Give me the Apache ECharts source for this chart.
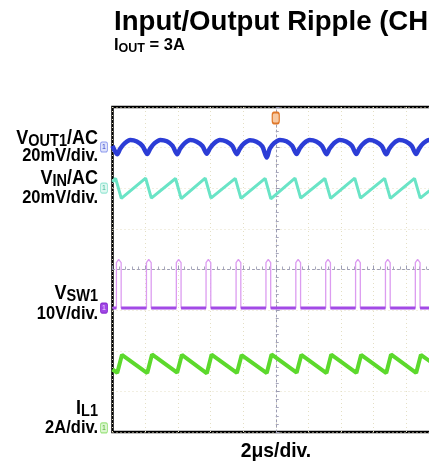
<!DOCTYPE html>
<html><head><meta charset="utf-8">
<script src="https://cdn.jsdelivr.net/npm/echarts/dist/echarts.min.js"></script>
<style>html,body{margin:0;padding:0;background:#fff}#c{width:429px;height:464px}</style>
</head><body><div id="c"></div>
<script>
// ---- text ----
const titleText = 'Input/Output Ripple (CH';
const xLabel = '2\u03bcs/div.';

// ---- time axis (us, trigger at 0), 2us/div ----
const timeMin = -10, timeMax = 10, timeStep = 2;

// ---- VSW1 switch node (V) ----
const swRise = [-9.76, -7.92, -6.09, -4.27, -2.43, -0.60, 1.23, 3.06, 4.89, 6.72, 8.55];
const swPeakT = [-9.62, -7.78, -5.95, -4.13, -2.29, -0.46, 1.37, 3.20, 5.03, 6.86, 8.69];
const swFall = [-9.47, -7.63, -5.80, -3.98, -2.14, -0.31, 1.52, 3.35, 5.18, 7.01, 8.84];
const swLow = 0, swHigh = 11.2, swTip = 12.0;

// ---- VOUT1 AC ripple (mV) ----
const voutT = [-10, -9.71, -9.53, -9.26, -8.91, -8.51, -8.16, -7.87, -7.69, -7.42, -7.07, -6.67, -6.32,
  -6.04, -5.86, -5.59, -5.24, -4.84, -4.49, -4.22, -4.04, -3.77, -3.42, -3.02, -2.67,
  -2.38, -2.20, -1.93, -1.58, -1.18, -0.83, -0.55, -0.37, -0.10, 0.25, 0.65, 1.00,
  1.28, 1.46, 1.73, 2.08, 2.48, 2.83, 3.11, 3.29, 3.56, 3.91, 4.31, 4.66,
  4.94, 5.12, 5.39, 5.74, 6.14, 6.49, 6.77, 6.95, 7.22, 7.57, 7.97, 8.32,
  8.60, 8.78, 9.05, 9.40, 9.80, 10];
const voutMV = [0.6, -3.5, -0.9, 1.8, 3.4, 2.7, 0.5, -3.4, -0.8, 1.9, 3.5, 2.8, 0.6,
  -3.6, -0.9, 1.8, 3.4, 2.6, 0.5, -3.3, -0.7, 1.9, 3.5, 2.7, 0.6,
  -3.5, -0.8, 1.8, 3.3, 2.6, 0.4, -5.2, -0.9, 1.9, 3.5, 2.8, 0.6,
  -3.4, -0.8, 1.9, 3.4, 2.7, 0.5, -3.5, -0.9, 1.8, 3.5, 2.7, 0.6,
  -3.4, -0.7, 1.9, 3.4, 2.6, 0.5, -3.6, -0.8, 1.8, 3.4, 2.7, 0.6,
  -3.4, -0.8, 1.9, 3.5, 2.7, 1.5];

// ---- VIN AC ripple (mV) ----
const vinT = [-10, -9.81, -9.46, -7.97, -7.62, -6.14, -5.79, -4.32, -3.97, -2.48, -2.13, -0.65, -0.30,
  1.18, 1.53, 3.01, 3.36, 4.84, 5.19, 6.67, 7.02, 8.50, 8.85, 10];
const vinMV = [3.0, 4.8, -5.1, 4.9, -5.0, 4.7, -5.2, 4.9, -5.0, 4.8, -5.1, 4.8, -5.3,
  4.9, -5.0, 4.7, -5.1, 4.9, -5.0, 4.8, -5.1, 4.8, -5.0, 2.5];

// ---- IL1 inductor current (A) ----
const ilT = [-10, -9.71, -9.42, -7.87, -7.58, -6.04, -5.75, -4.22, -3.93, -2.38, -2.09, -0.55, -0.26,
  1.28, 1.57, 3.11, 3.40, 4.94, 5.23, 6.77, 7.06, 8.60, 8.89, 10];
const ilA = [2.88, 2.71, 3.60, 2.70, 3.62, 2.72, 3.60, 2.69, 3.61, 2.71, 3.59, 2.70, 3.62,
  2.72, 3.60, 2.70, 3.61, 2.71, 3.60, 2.70, 3.62, 2.71, 3.60, 2.96];

// ---- channel scales (ground reference of each trace) ----
const voutRange = [-140.3, 19.7];   // 20mV/div
const vinRange = [-120.1, 39.9];    // 20mV/div
const swRange = [-30.5, 49.5];      // 10V/div
const ilRange = [-0.2, 15.8];       // 2A/div

const FONT = '"Liberation Sans", Arial, Helvetica, sans-serif';

const zip = (a, b) => a.map((t, i) => [t, b[i]]);
const swPts = [[timeMin, swLow]];
const swLowPts = [[timeMin, swLow]];
for (let i = 0; i < swRise.length; i++) {
  swPts.push([swRise[i], swLow], [swRise[i], swHigh], [swPeakT[i], swTip], [swFall[i], swHigh], [swFall[i], swLow]);
  swLowPts.push([swRise[i], swLow], [swRise[i], '-'], [swFall[i], swLow]);
}
swPts.push([timeMax, swLow]);
swLowPts.push([timeMax, swLow]);

function chMarker(fill, border, txt) {
  return {
    symbol: 'roundRect', symbolSize: [7, 10], silent: true, animation: false,
    itemStyle: { color: fill, borderColor: border, borderWidth: 1 },
    label: { show: true, formatter: '1', fontSize: 7, color: txt, fontFamily: FONT },
    data: [{ coord: [timeMin, 0], symbolOffset: [-8.5, 0] }]
  };
}

const chart = echarts.init(document.getElementById('c'), null, { renderer: 'canvas' });
const vm = chMarker('#dfe3fb', '#8e9bee', '#3344cc');
vm.data.push({ coord: [0, voutRange[1]], symbol: 'roundRect', symbolSize: [7, 11], symbolOffset: [0, 11],
  itemStyle: { color: '#f7c9a2', borderColor: '#e0782a', borderWidth: 1.5 }, label: { show: false } });

const bigTok = { fontSize: 18, fontWeight: 'bold', fontFamily: FONT, lineHeight: 22, fill: '#000' };
const subTok = { fontSize: 14.5, fontWeight: 'bold', fontFamily: FONT, lineHeight: 12, verticalAlign: 'bottom', fill: '#000' };
function nameLabel(y, main, sub, tail) {
  return { type: 'text', x: 98, y: y, scaleY: 1.15, silent: true,
    style: { text: '{b|' + main + '}{s|' + sub + '}' + (tail ? '{b|' + tail + '}' : ''),
      align: 'right', verticalAlign: 'top', fill: '#000', rich: { b: bigTok, s: subTok } } };
}
function scaleLabel(y, txt) {
  return { type: 'text', x: 98, y: y, scaleY: 1.15, silent: true,
    style: { text: txt, align: 'right', verticalAlign: 'top', fill: '#000',
      fontSize: 16.5, fontWeight: 'bold', fontFamily: FONT, lineHeight: 20 } };
}

const option = {
  animation: false,
  backgroundColor: '#fff',
  grid: { left: 112.5, right: -10, top: 107, bottom: 32, outerBoundsMode: 'none', containLabel: false,
    show: true, borderColor: '#000', borderWidth: 2.5, backgroundColor: '#fff' },
  xAxis: {
    type: 'value', min: timeMin, max: timeMax, interval: timeStep,
    axisLabel: { show: false },
    axisLine: { show: true, onZero: true, onZeroAxisIndex: 0, lineStyle: { color: '#9c9cb2', type: [2, 3], width: 1 } },
    axisTick: { show: true, inside: true, length: 4, lineStyle: { color: '#9c9cb2' } },
    minorTick: { show: true, splitNumber: 5, length: 3, lineStyle: { color: '#a8a8bc' } },
    splitLine: { show: true, lineStyle: { color: '#e4dfc4', type: [1, 3], width: 1 } }
  },
  yAxis: [
    { type: 'value', min: -4, max: 4, interval: 1,
      axisLabel: { show: false },
      axisLine: { show: true, onZero: true, lineStyle: { color: '#9c9cb2', type: [2, 3], width: 1 } },
      axisTick: { show: true, inside: true, length: 4, lineStyle: { color: '#9c9cb2' } },
      minorTick: { show: true, splitNumber: 5, length: 3, lineStyle: { color: '#a8a8bc' } },
      splitLine: { show: true, lineStyle: { color: '#e4dfc4', type: [1, 3], width: 1 } } },
    { type: 'value', min: voutRange[0], max: voutRange[1], show: false },
    { type: 'value', min: vinRange[0], max: vinRange[1], show: false },
    { type: 'value', min: swRange[0], max: swRange[1], show: false },
    { type: 'value', min: ilRange[0], max: ilRange[1], show: false }
  ],
  series: [
    { name: 'VSW1', type: 'line', yAxisIndex: 3, data: swPts, symbol: 'none', silent: true,
      lineStyle: { color: '#dc9cf0', width: 1.3 },
      markPoint: chMarker('#a046e6', '#8a2fd0', '#f0d8ff') },
    { name: 'VSW1 low', type: 'line', yAxisIndex: 3, data: swLowPts, symbol: 'none', silent: true, connectNulls: false,
      lineStyle: { color: '#a24ae6', width: 3 } },
    { name: 'VIN', type: 'line', yAxisIndex: 2, data: zip(vinT, vinMV), symbol: 'none', silent: true,
      lineStyle: { color: '#6ae4c6', width: 3 },
      markPoint: chMarker('#dff8f1', '#98e6d4', '#40b89a') },
    { name: 'VOUT1', type: 'line', yAxisIndex: 1, data: zip(voutT, voutMV), symbol: 'none', silent: true, smooth: 0.3,
      lineStyle: { color: '#2c3dd6', width: 4.5 },
      markPoint: vm },
    { name: 'IL1', type: 'line', yAxisIndex: 4, data: zip(ilT, ilA), symbol: 'none', silent: true,
      lineStyle: { color: '#5cd92c', width: 4 },
      markPoint: chMarker('#dcf6d0', '#9be37e', '#50b030') }
  ],
  graphic: [
    { type: 'text', x: 114, y: 6.9, silent: true,
      style: { text: titleText, fontSize: 27.6, fontWeight: 'bold', fontFamily: FONT, fill: '#000', lineHeight: 30, verticalAlign: 'top' } },
    { type: 'text', x: 114, y: 35.4, silent: true,
      style: { text: '{b|I}{s|OUT}{b| = 3A}', verticalAlign: 'top', fill: '#000',
        rich: { b: { fontSize: 16.5, fontWeight: 'bold', fontFamily: FONT, lineHeight: 20, fill: '#000' },
                s: { fontSize: 12.5, fontWeight: 'bold', fontFamily: FONT, lineHeight: 12, verticalAlign: 'bottom', fill: '#000' } } } },
    nameLabel(125.2, 'V', 'OUT1', '/AC'),
    scaleLabel(144.6, '20mV/div.'),
    nameLabel(165.2, 'V', 'IN', '/AC'),
    scaleLabel(185.9, '20mV/div.'),
    nameLabel(280.2, 'V', 'SW1', ''),
    scaleLabel(301.9, '10V/div.'),
    nameLabel(395.2, 'I', 'L1', ''),
    scaleLabel(415.9, '2A/div.'),
    { type: 'text', x: 276, y: 440.3, silent: true,
      style: { text: xLabel, align: 'center', verticalAlign: 'top', fontSize: 19.3, fontWeight: 'bold', fontFamily: FONT, fill: '#000', lineHeight: 22 } }
  ]
};
chart.setOption(option);
</script></body></html>
